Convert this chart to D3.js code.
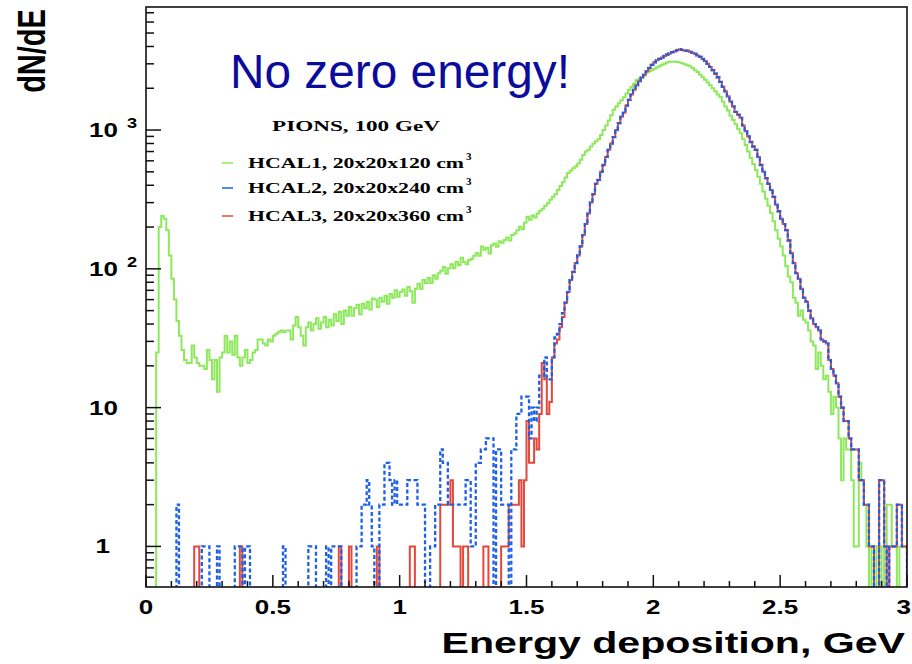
<!DOCTYPE html>
<html><head><meta charset="utf-8">
<script src="https://cdn.jsdelivr.net/npm/d3@7"></script>
<style>body{margin:0;background:#fff}svg{display:block}</style>
</head><body>
<svg id="c" width="912" height="664"></svg>
<script>
// ---------------- DATA ----------------
const binWidthGeV = 0.01;          // 300 bins from 0 to 3 GeV
const energyRange = [0, 3];
const countRange = [0.51, 7700];

// HCAL1, 20x20x120 cm3 (green)
const hcal1 = [
  0,0,0,0,25,200,240,230,190,125,
  85,60,42,33,26,22,21,21,28,23,
  21,20,20,19,26,22,16,22,13,23,
  25,33,25,30,24,33,23,20,23,26,
  21,22,25,26,31,31,29,28,31,30,
  33,34,35,36,35,36,36,31,39,45,
  38,33,28,38,41,36,40,44,37,41,
  45,38,43,39,47,42,49,40,50,46,
  53,46,52,55,47,56,52,58,51,61,
  60,53,62,58,64,56,66,62,70,63,
  68,71,64,74,69,57,72,78,72,83,
  79,86,79,90,85,93,97,103,92,101,
  108,101,112,106,120,112,108,116,118,124,
  130,124,145,137,142,129,148,152,144,158,
  154,161,168,160,175,180,190,201,193,215,
  237,226,242,234,250,262,271,285,297,315,
  330,345,370,395,420,455,490,510,530,545,
  575,610,660,700,720,760,800,830,860,920,
  1000,1080,1170,1280,1400,1480,1560,1640,1720,1830,
  1950,2050,2150,2280,2330,2400,2470,2600,2650,2700,
  2760,2820,2880,2950,3000,3060,3100,3110,3120,3090,
  3070,3030,2980,2930,2880,2800,2700,2620,2500,2400,
  2300,2200,2100,2000,1900,1800,1730,1600,1480,1380,
  1270,1180,1100,1020,950,860,780,700,630,570,
  515,460,410,360,320,285,253,220,190,165,
  145,125,105,88,80,62,57,46,50,43,
  41,36,30,28,19,25,20,16,17,13,
  9,12,10,6,3,6,5,5,3,1,
  1,4,3,2,1,0,1,0,1,1,
  0,1,2,2,1,1,0,1,1,1
];

// HCAL2, 20x20x240 cm3 (blue, dashed)
const hcal2 = [
  0,0,0,0,0,0,0,0,0,0,
  0,0,2,0,0,0,0,0,0,0,
  0,0,1,1,1,0,0,0,1,0,
  0,0,0,0,0,1,1,1,0,1,
  1,0,0,0,0,0,0,0,0,0,
  0,0,0,0,1,0,0,0,0,0,
  0,0,0,0,1,1,1,0,0,0,
  0,1,0,1,1,1,1,0,0,0,
  0,0,0,1,1,2,2,3,2,1,
  0,0,2,2,4,4,3,2,3,2,
  2,2,2,3,3,3,3,2,2,2,
  0,0,1,1,2,2,5,4,4,2,
  2,2,2,2,2,2,3,3,1,1,
  4,4,5,5,6,6,6,0,5,5,
  2,2,2,0,5,5,9,9,12,12,
  12,6,10,8,10,17,17,23,16,16,
  23,32,34,40,48,57,68,83,95,110,
  125,145,175,210,250,300,345,410,437,500,
  560,640,720,800,890,1000,1120,1245,1330,1500,
  1650,1800,1950,2100,2250,2380,2500,2650,2800,2950,
  3080,3180,3260,3330,3420,3500,3560,3640,3700,3760,
  3820,3780,3720,3740,3660,3610,3540,3450,3370,3250,
  3150,3000,2850,2700,2550,2400,2220,2050,1900,1750,
  1600,1480,1350,1290,1225,1080,980,900,820,760,
  720,640,560,500,450,410,370,330,290,260,
  230,210,190,160,130,110,93,85,72,62,
  58,50,44,40,38,36,31,30,29,22,
  19,17,15,12,10,8,8,6,5,5,
  5,3,3,2,2,1,1,0,0,3,
  3,1,0,1,1,1,2,2,1,1
];

// HCAL3, 20x20x360 cm3 (red)
const hcal3 = [
  0,0,0,0,0,0,0,0,0,0,
  0,0,0,0,0,0,0,0,0,1,
  1,0,0,0,0,0,0,0,0,0,
  0,0,0,0,0,0,0,1,0,0,
  0,0,0,0,0,0,0,0,0,0,
  0,0,0,0,0,0,0,0,0,0,
  0,0,0,0,0,0,0,0,0,0,
  0,0,0,0,0,0,1,0,0,0,
  1,0,0,0,0,0,0,0,0,0,
  0,1,0,0,0,0,0,0,0,0,
  0,0,0,0,1,1,0,0,0,0,
  0,0,0,0,0,0,2,2,2,2,
  3,1,1,1,0,1,1,0,0,0,
  0,0,0,1,1,0,0,0,0,0,
  1,1,1,2,2,2,2,3,1,3,
  8,4,4,6,5,9,21,16,9,11,
  23,29,31,38,45,57,68,83,95,110,
  125,145,175,210,250,300,345,410,437,500,
  560,640,720,800,890,1000,1120,1245,1330,1500,
  1650,1800,1950,2100,2250,2380,2500,2650,2800,2950,
  3080,3180,3260,3330,3420,3500,3560,3640,3700,3760,
  3820,3780,3720,3740,3660,3610,3540,3450,3370,3250,
  3150,3000,2850,2700,2550,2400,2220,2050,1900,1750,
  1600,1480,1350,1290,1225,1080,980,900,820,760,
  720,640,560,500,450,410,370,330,290,260,
  230,210,190,160,130,110,93,85,72,62,
  58,50,44,40,38,36,31,30,29,22,
  19,17,15,12,10,8,8,6,5,5,
  5,3,3,2,2,1,1,0,0,3,
  3,1,0,1,1,1,2,2,1,1
];

const xTickValues = [0, 0.5, 1, 1.5, 2, 2.5, 3];
const xTickLabels = ["0", "0.5", "1", "1.5", "2", "2.5", "3"];
const yTickValues = [1, 10, 100, 1000];
const yTickBase = ["1", "10", "10", "10"];
const yTickExp = ["", "", "2", "3"];

const seriesNames = ["HCAL1, 20x20x120 cm", "HCAL2, 20x20x240 cm", "HCAL3, 20x20x360 cm"];
const legendTitle = "PIONS, 100 GeV";
const yTitle = "dN/dE";
const xTitle = "Energy deposition, GeV";
const annotation = "No zero energy!";

// ---------------- LAYOUT / STYLE ----------------
const frame = {left: 146, right: 907, top: 7, bottom: 587};
const colors = {green: "#8de85c", blue: "#1d60e6", red: "#e4473b", navy: "#0c0c9c"};
const SANS = "'Liberation Sans', Arial, Helvetica, sans-serif";
const SERIF = "'Liberation Serif', 'Times New Roman', serif";

const svg = d3.select("#c");
const x = d3.scaleLinear().domain(energyRange).range([frame.left, frame.right]);
const y = d3.scaleLog().domain(countRange).range([frame.bottom, frame.top]);

svg.append("defs").append("clipPath").attr("id", "clip")
  .append("rect").attr("x", frame.left).attr("y", frame.top)
  .attr("width", frame.right - frame.left).attr("height", frame.bottom - frame.top);

// histogram outline path
function stepPoints(vals) {
  const below = frame.bottom + 4;
  const pts = [[x(0), below]];
  vals.forEach((v, i) => {
    const yy = v > 0 ? y(v) : below;
    pts.push([x(i * binWidthGeV), yy], [x((i + 1) * binWidthGeV), yy]);
  });
  pts.push([x(vals.length * binWidthGeV), below]);
  return pts;
}
const line = d3.line();
const plot = svg.append("g").attr("clip-path", "url(#clip)");
plot.append("path").attr("d", line(stepPoints(hcal1)))
  .attr("fill", "none").attr("stroke", colors.green).attr("stroke-width", 2);
plot.append("path").attr("d", line(stepPoints(hcal3)))
  .attr("fill", "none").attr("stroke", colors.red).attr("stroke-width", 2);
plot.append("path").attr("d", line(stepPoints(hcal2)))
  .attr("fill", "none").attr("stroke", colors.blue).attr("stroke-width", 2.3)
  .attr("stroke-dasharray", "4,2.5");

// frame
svg.append("rect").attr("x", frame.left).attr("y", frame.top)
  .attr("width", frame.right - frame.left).attr("height", frame.bottom - frame.top)
  .attr("fill", "none").attr("stroke", "#111").attr("stroke-width", 1.6);

// x ticks (inside, upward)
const xMinor = d3.range(0, 3.0001, 0.1).map(v => +v.toFixed(2));
const gx = svg.append("g");
xMinor.forEach(v => {
  const major = xTickValues.some(t => Math.abs(t - v) < 1e-6);
  gx.append("line").attr("x1", x(v)).attr("x2", x(v))
    .attr("y1", frame.bottom).attr("y2", frame.bottom - (major ? 12 : 6))
    .attr("stroke", "#111").attr("stroke-width", 1.5);
});
xTickValues.forEach((v, i) => {
  const last = i === xTickValues.length - 1;
  svg.append("text").attr("transform", `translate(${last ? 911 : x(v)},614) scale(1.3,1)`)
    .attr("text-anchor", last ? "end" : "middle").style("font-family", SANS).style("font-weight", "bold")
    .style("font-size", "20px").attr("fill", "#000").text(xTickLabels[i]);
});

// y ticks (inside, rightward)
const gy = svg.append("g");
const yMinor = [];
[0.1, 1, 10, 100, 1000].forEach(d => { for (let k = 1; k <= 9; k++) yMinor.push(k * d); });
yMinor.filter(v => v >= countRange[0] && v <= countRange[1]).forEach(v => {
  const major = yTickValues.includes(v);
  gy.append("line").attr("x1", frame.left).attr("x2", frame.left + (major ? 15 : 8))
    .attr("y1", y(v)).attr("y2", y(v)).attr("stroke", "#111").attr("stroke-width", 1.5);
});
yTickValues.forEach((v, i) => {
  const yy = y(v) + 7;
  svg.append("text").attr("transform", `translate(${i === 0 ? 110 : 118},${yy}) scale(1.3,1)`)
    .attr("text-anchor", "end").style("font-family", SANS).style("font-weight", "bold")
    .style("font-size", "20px").attr("fill", "#000").text(yTickBase[i]);
  if (yTickExp[i]) {
    svg.append("text").attr("transform", `translate(127,${yy - 9}) scale(1.3,1)`)
      .attr("text-anchor", "start").style("font-family", SANS).style("font-weight", "bold")
      .style("font-size", "14px").attr("fill", "#000").text(yTickExp[i]);
  }
});

// axis titles
svg.append("text").attr("transform", "translate(905,653) scale(1.37,1)")
  .attr("text-anchor", "end").style("font-family", SANS).style("font-weight", "bold")
  .style("font-size", "30px").attr("fill", "#000").text(xTitle);
svg.append("text").attr("transform", "translate(45,51) scale(1.35,1) rotate(-90)")
  .attr("text-anchor", "middle").style("font-family", SANS).style("font-weight", "bold")
  .style("font-size", "29px").attr("fill", "#000").text(yTitle);

// annotation
svg.append("text").attr("x", 230).attr("y", 88)
  .style("font-family", SANS).style("font-size", "48px").attr("fill", colors.navy)
  .attr("textLength", 340).attr("lengthAdjust", "spacingAndGlyphs").text(annotation);

// legend
svg.append("text").attr("x", 272).attr("y", 131)
  .style("font-family", SERIF).style("font-weight", "bold").style("font-size", "14px")
  .attr("textLength", 168).attr("lengthAdjust", "spacingAndGlyphs").text(legendTitle);
const legColors = [colors.green, colors.blue, colors.red];
const legY = [163, 188, 216];
seriesNames.forEach((name, i) => {
  svg.append("line").attr("x1", 222).attr("x2", 233).attr("y1", legY[i]).attr("y2", legY[i])
    .attr("stroke", legColors[i]).attr("stroke-width", 1.5);
  svg.append("text").attr("x", 248).attr("y", legY[i] + 5)
    .style("font-family", SERIF).style("font-weight", "bold").style("font-size", "15px")
    .attr("textLength", 216).attr("lengthAdjust", "spacingAndGlyphs").text(name);
  svg.append("text").attr("x", 466).attr("y", legY[i] - 3)
    .style("font-family", SERIF).style("font-weight", "bold").style("font-size", "11px")
    .text("3");
});
</script>
</body></html>
